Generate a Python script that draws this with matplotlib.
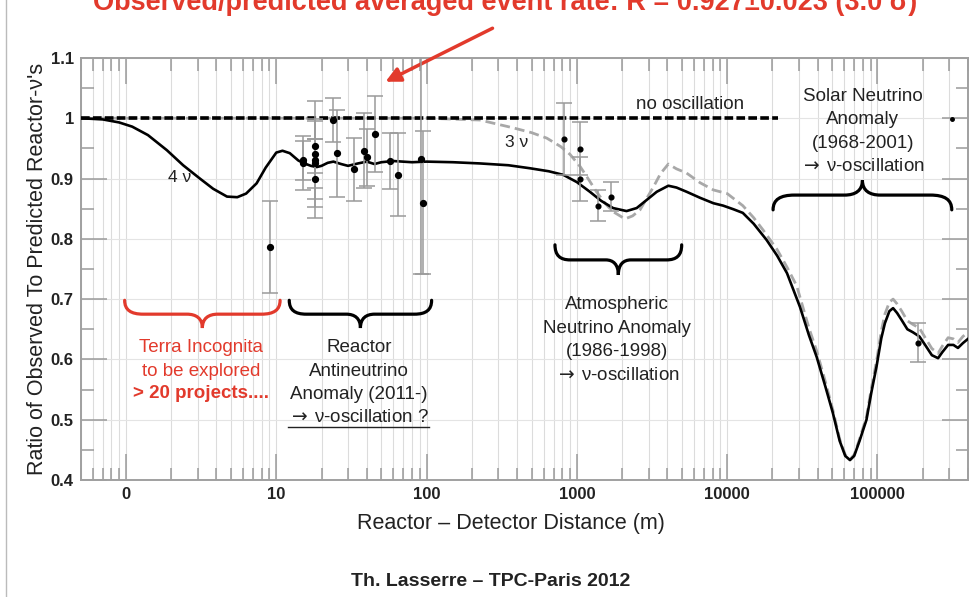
import matplotlib
matplotlib.use('Agg')
import matplotlib.pyplot as plt
import numpy as np
from matplotlib.path import Path
from matplotlib.patches import PathPatch
from matplotlib.lines import Line2D
from matplotlib.ticker import FixedLocator, LogLocator, NullFormatter

plt.rcParams['font.family'] = ['Liberation Sans', 'DejaVu Sans']

RED = '#e23a2c'
GREY = '#9a9a9a'

# 4-neutrino (3+1) expectation
dist_4nu = [0.5, 0.7, 0.9, 1.1, 1.4, 1.87, 2.4, 3.1, 3.8, 4.7, 5.5, 6.3, 7.4, 8.5,
            10.0, 11.0, 12.3, 14, 15, 17, 18.6, 20, 22, 24, 27, 30, 35, 40, 45, 50,
            60, 80, 100, 150, 226, 350, 487, 650, 813, 1000, 1220, 1450, 1740, 2140,
            2500, 2900, 3400, 4060, 4600, 5370, 6600, 8100, 9400, 11000, 12700, 15000,
            18300, 21500, 25000, 30500, 35000, 39400, 45000, 50500, 56000, 61000, 65600,
            70000, 76000, 84500, 91000, 98500, 106000, 112000, 120000, 127000, 135000,
            145000, 158000, 172000, 190000, 210000, 230000, 253000, 270000, 295000,
            320000, 343000, 370000, 400000]
ratio_4nu = [1.0, 0.998, 0.993, 0.986, 0.972, 0.947, 0.922, 0.900, 0.883, 0.870, 0.869,
             0.875, 0.892, 0.918, 0.943, 0.946, 0.942, 0.930, 0.926, 0.921, 0.919, 0.921,
             0.926, 0.928, 0.924, 0.921, 0.925, 0.928, 0.924, 0.927, 0.929, 0.927, 0.928,
             0.927, 0.925, 0.922, 0.917, 0.912, 0.906, 0.894, 0.878, 0.863, 0.851, 0.846,
             0.851, 0.864, 0.878, 0.888, 0.885, 0.878, 0.868, 0.859, 0.855, 0.849, 0.843,
             0.825, 0.798, 0.772, 0.743, 0.687, 0.640, 0.604, 0.555, 0.511, 0.465, 0.440,
             0.433, 0.440, 0.465, 0.500, 0.545, 0.588, 0.635, 0.660, 0.680, 0.685, 0.677,
             0.665, 0.650, 0.645, 0.638, 0.622, 0.607, 0.602, 0.612, 0.624, 0.624, 0.619,
             0.627, 0.634]

# standard 3-neutrino expectation
dist_3nu = [0.5, 100, 226, 377, 500, 630, 780, 900, 1050, 1200, 1350, 1550, 1740, 2090,
            2350, 2630, 2900, 3230, 3600, 4060, 4600, 5370, 6600, 8100, 10000, 12700,
            15000, 17400, 21500, 25000, 29000, 35000, 39400, 45000, 50500, 56000, 61000,
            65600, 70000, 76000, 84500, 91000, 98500, 106000, 112000, 120000, 127000,
            135000, 145000, 158000, 172000, 190000, 210000, 230000, 253000, 270000,
            295000, 320000, 343000, 370000, 400000]
ratio_3nu = [1.0, 1.0, 0.997, 0.984, 0.976, 0.967, 0.953, 0.940, 0.920, 0.898, 0.878,
             0.858, 0.845, 0.833, 0.838, 0.848, 0.866, 0.886, 0.908, 0.924, 0.916, 0.909,
             0.893, 0.881, 0.875, 0.855, 0.835, 0.814, 0.782, 0.753, 0.722, 0.652, 0.614,
             0.563, 0.516, 0.468, 0.442, 0.434, 0.442, 0.468, 0.505, 0.552, 0.597, 0.647,
             0.675, 0.695, 0.700, 0.692, 0.680, 0.664, 0.658, 0.652, 0.634, 0.618, 0.610,
             0.622, 0.636, 0.634, 0.628, 0.638, 0.645]

# short-baseline reactor experiments
sbl_dist = [9.1, 15, 15, 18, 18, 18, 18, 18, 24, 25.2, 32.9, 38.3, 40.3, 45.4, 57, 65, 92, 95]
sbl_ratio = [0.786, 0.926, 0.930, 0.954, 0.931, 0.925, 0.900, 0.940, 0.997, 0.942,
             0.915, 0.946, 0.935, 0.973, 0.929, 0.906, 0.932, 0.860]
sbl_err = [0.076, 0.045, 0.032, 0.045, 0.065, 0.040, 0.065, 0.088, 0.036, 0.072,
           0.052, 0.062, 0.047, 0.063, 0.047, 0.069, 0.190, 0.118]

# longer baselines (Palo Verde, Chooz, Double Chooz, Daya Bay/RENO, KamLAND)
lbl_dist = [825, 1050, 1050, 1390, 1690, 185000]
lbl_ratio = [0.965, 0.949, 0.899, 0.855, 0.870, 0.628]
lbl_err = [0.060, 0.044, 0.036, 0.026, 0.024, 0.032]

xticks = [1, 10, 100, 1000, 10000, 100000]
xtick_labels = ['0', '10', '100', '1000', '10000', '100000']
yticks = [0.4, 0.5, 0.6, 0.7, 0.8, 0.9, 1.0, 1.1]
ytick_labels = ['0.4', '0.5', '0.6', '0.7', '0.8', '0.9', '1', '1.1']

ARROW = r'$\rightarrow\,$'


def brace(ax, x1, x2, y_end, y_tip, color, lw=2.3):
    """Curly brace between x1 and x2 (log axis), ends at y_end, point at y_tip."""
    uv = [(0, 0), (0, 0.35), (0.04, 0.5), (0.12, 0.5),
          (0.40, 0.5),
          (0.46, 0.5), (0.5, 0.65), (0.5, 1.0),
          (0.5, 0.65), (0.54, 0.5), (0.60, 0.5),
          (0.88, 0.5),
          (0.96, 0.5), (1, 0.35), (1, 0)]
    codes = [Path.MOVETO, Path.CURVE4, Path.CURVE4, Path.CURVE4, Path.LINETO,
             Path.CURVE4, Path.CURVE4, Path.CURVE4, Path.CURVE4, Path.CURVE4,
             Path.CURVE4, Path.LINETO, Path.CURVE4, Path.CURVE4, Path.CURVE4]
    l1, l2 = np.log10(x1), np.log10(x2)
    verts = [(10 ** (l1 + u * (l2 - l1)), y_end + v * (y_tip - y_end)) for u, v in uv]
    ax.add_patch(PathPatch(Path(verts, codes), fill=False, ec=color, lw=lw,
                           capstyle='round', clip_on=False, zorder=5))


fig = plt.figure(figsize=(9.75, 5.97), dpi=100)
ax = fig.add_axes([0.0828, 0.196, 0.9100, 0.707])

ax.set_xscale('log')
ax.set_xlim(0.5, 4e5)
ax.set_ylim(0.4, 1.1)

ax.xaxis.set_major_locator(FixedLocator(xticks))
ax.set_xticklabels(xtick_labels)
ax.xaxis.set_minor_locator(LogLocator(base=10, subs=range(2, 10), numticks=20))
ax.xaxis.set_minor_formatter(NullFormatter())
ax.set_yticks(yticks)
ax.set_yticklabels(ytick_labels)
ax.yaxis.set_minor_locator(FixedLocator(np.arange(0.45, 1.1, 0.1)))

ax.grid(which='both', axis='x', color='#dcdcdc', lw=0.8, zorder=0)
ax.grid(which='major', axis='y', color='#e4e4e4', lw=0.8, zorder=0)
ax.tick_params(which='major', direction='in', length=19, width=1.1, color=GREY,
               top=True, right=True, labelsize=12, pad=5)
ax.tick_params(which='minor', direction='in', length=9, width=1.1, color=GREY,
               top=True, right=True)
for lab in ax.get_xticklabels() + ax.get_yticklabels():
    lab.set_fontweight('bold')
    lab.set_color('#222')
for sp in ax.spines.values():
    sp.set_color('#a0a0a0')
    sp.set_linewidth(1.4)

# curves
ax.plot(dist_3nu, ratio_3nu, color='#a8a8a8', lw=2.0, dashes=(3.6, 1.8), zorder=3)
ax.plot(dist_4nu, ratio_4nu, color='black', lw=1.9, zorder=4)
ax.plot([0.5, 21700], [1.0, 1.0], color='black', lw=2.6, dashes=(2.4, 0.9), zorder=4)

# data
ax.errorbar(sbl_dist, sbl_ratio, yerr=sbl_err, fmt='o', color='black', ms=4.2,
            ecolor=GREY, elinewidth=1.1, capsize=6, capthick=1.1, zorder=6)
ax.errorbar(lbl_dist, lbl_ratio, yerr=lbl_err, fmt='o', color='black', ms=3.4,
            ecolor=GREY, elinewidth=1.1, capsize=6, capthick=1.1, zorder=6)
ax.plot([312000], [0.998], 'o', color='black', ms=2.5, zorder=6)

# curve labels
ax.text(2.29, 0.901, '4 ν', fontsize=12.5, ha='center', va='center', color='#222')
ax.text(400, 0.959, '3 ν', fontsize=12.5, ha='center', va='center', color='#222')
ax.text(5650, 1.022, 'no oscillation', fontsize=13.5, ha='center', va='center', color='#222')

# braces
brace(ax, 0.98, 10.6, 0.698, 0.652, RED)
brace(ax, 12.2, 108, 0.698, 0.652, 'black')
brace(ax, 715, 4980, 0.79, 0.74, 'black')
brace(ax, 20200, 312000, 0.848, 0.897, 'black')

fs = 13.5
ls = 1.5
ax.text(3.16, 0.600, 'Terra Incognita\nto be explored', color=RED, fontsize=fs,
        ha='center', va='center', linespacing=ls)
ax.text(3.16, 0.544, '> 20 projects....', color=RED, fontsize=fs, fontweight='bold',
        ha='center', va='center')
ax.text(35.5, 0.580, 'Reactor\nAntineutrino\nAnomaly (2011-)', color='#222', fontsize=fs,
        ha='center', va='center', linespacing=ls)
osc = ax.text(35.5, 0.504, ARROW + 'ν-oscillation ?', color='#222', fontsize=fs,
              ha='center', va='center')
ax.text(1850, 0.632, 'Atmospheric\nNeutrino Anomaly\n(1986-1998)\n' + ARROW + 'ν-oscillation',
        color='#222', fontsize=fs, ha='center', va='center', linespacing=ls)
ax.text(79900, 0.978, 'Solar Neutrino\nAnomaly\n(1968-2001)\n' + ARROW + 'ν-oscillation',
        color='#222', fontsize=fs, ha='center', va='center', linespacing=ls)

ax.set_xlabel('Reactor – Detector Distance (m)', fontsize=15.5, labelpad=8, color='#222')
ax.xaxis.label.set_x(0.485)
ax.set_ylabel("Ratio of Observed To Predicted Reactor-ν's", fontsize=15.5, labelpad=2,
              color='#222')

# title (cut off at the top of the slide) and arrow
fig.text(0.518, 1 - 10 / 597, 'Observed/predicted averaged event rate: R = 0.927±0.023 (3.0 σ)',
         color=RED, fontsize=19.5, fontweight='bold', ha='center', va='baseline')
ax.annotate('', xy=(383, 597 - 83), xycoords='figure pixels',
            xytext=(495, 597 - 27), textcoords='figure pixels',
            arrowprops=dict(arrowstyle='-|>', color=RED, lw=2.5, mutation_scale=22))

fig.text(0.503, 1 - 581 / 597, 'Th. Lasserre – TPC-Paris 2012', fontsize=14,
         fontweight='bold', ha='center', va='center', color='#222')

# slide border on the left
fig.add_artist(Line2D([0.006, 0.006], [0, 1], transform=fig.transFigure,
                      color='#bbbbbb', lw=1))

# underline of the reactor anomaly conclusion
fig.canvas.draw()
bb = osc.get_window_extent()
fig.add_artist(Line2D([bb.x0, bb.x1], [bb.y0 - 1, bb.y0 - 1], transform=None,
                      color='#222', lw=1))

fig.savefig('out.png', dpi=100)
